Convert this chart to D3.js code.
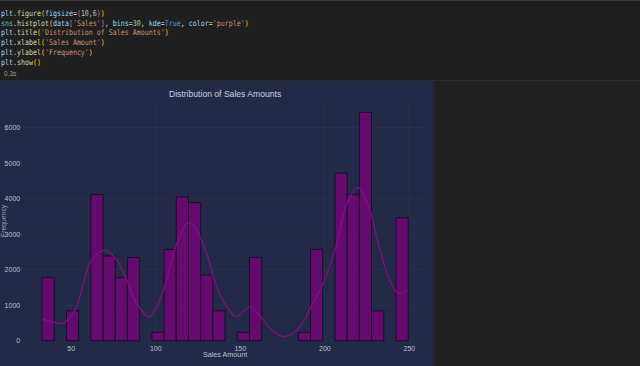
<!DOCTYPE html>
<html>
<head>
<meta charset="utf-8">
<script src="https://cdn.jsdelivr.net/npm/d3@7"></script>
<style>
  html, body { margin: 0; padding: 0; background: #202020; }
  svg { display: block; }
</style>
</head>
<body>
<svg id="page" width="640" height="366"></svg>
<script>
// histogram: 30 bins starting at binMin, each binWidth wide
const binMin = 33.0;
const binWidth = 7.22;
const counts = [1775, 0, 840, 0, 4110, 2385, 1775, 2340, 0, 236,
                2570, 4045, 3885, 1850, 840, 0, 236, 2340, 0, 0,
                0, 236, 2570, 0, 4715, 4120, 6425, 840, 0, 3458];

// kde curve
const kdeX = [33.0, 38.5, 45.6, 52.5, 62.4, 70.3, 77.2, 83.1, 89.0, 96.4,
              104.7, 110.7, 118.6, 122.5, 130.4, 136.3, 142.2, 148.1, 156.0, 161.9,
              169.8, 176.7, 185.6, 192.5, 198.4, 206.3, 214.1, 220.0, 226.9, 232.9,
              238.8, 243.7, 249.6];
const kdeY = [600, 540, 490, 860, 2270, 2550, 2270, 1700, 1050, 675,
              1400, 2450, 3300, 3250, 2450, 1520, 960, 680, 950, 700,
              260, 115, 394, 1004, 1518, 2550, 3956, 4313, 3670, 2550,
              1706, 1333, 1425];

const xTicks = [50, 100, 150, 200, 250];
const yTicks = [0, 1000, 2000, 3000, 4000, 5000, 6000];

// code cell text, token by token
const codeLines = [
  [["plt", "#9cdcfe"], [".", "#d4d4d4"], ["figure", "#dcdcaa"], ["(", "#ffd700"], ["figsize", "#9cdcfe"], ["=", "#d4d4d4"], ["(", "#da70d6"], ["10", "#b5cea8"], [",", "#d4d4d4"], ["6", "#b5cea8"], [")", "#da70d6"], [")", "#ffd700"]],
  [["sns", "#4ec9b0"], [".", "#d4d4d4"], ["histplot", "#dcdcaa"], ["(", "#ffd700"], ["data", "#9cdcfe"], ["[", "#da70d6"], ["'Sales'", "#ce9178"], ["]", "#da70d6"], [", ", "#d4d4d4"], ["bins", "#9cdcfe"], ["=", "#d4d4d4"], ["30", "#b5cea8"], [", ", "#d4d4d4"], ["kde", "#9cdcfe"], ["=", "#d4d4d4"], ["True", "#569cd6"], [", ", "#d4d4d4"], ["color", "#9cdcfe"], ["=", "#d4d4d4"], ["'purple'", "#ce9178"], [")", "#ffd700"]],
  [["plt", "#9cdcfe"], [".", "#d4d4d4"], ["title", "#dcdcaa"], ["(", "#ffd700"], ["'Distribution of Sales Amounts'", "#ce9178"], [")", "#ffd700"]],
  [["plt", "#9cdcfe"], [".", "#d4d4d4"], ["xlabel", "#dcdcaa"], ["(", "#ffd700"], ["'Sales Amount'", "#ce9178"], [")", "#ffd700"]],
  [["plt", "#9cdcfe"], [".", "#d4d4d4"], ["ylabel", "#dcdcaa"], ["(", "#ffd700"], ["'Frequency'", "#ce9178"], [")", "#ffd700"]],
  [["plt", "#9cdcfe"], [".", "#d4d4d4"], ["show", "#dcdcaa"], ["(", "#ffd700"], [")", "#ffd700"]]
];

const svg = d3.select("#page");

// notebook chrome
svg.append("rect").attr("width", 640).attr("height", 81).attr("fill", "#1f1f1f");
svg.append("rect").attr("width", 640).attr("height", 1).attr("fill", "#383838");
svg.append("rect").attr("y", 80).attr("width", 640).attr("height", 1).attr("fill", "#2c2c2c");

const code = svg.append("g")
  .attr("font-family", "DejaVu Sans Mono, monospace")
  .attr("font-size", 8);

codeLines.forEach((tokens, i) => {
  const t = code.append("text")
    .attr("transform", `translate(1,${15.8 + i * 9.75}) scale(0.83,1)`);
  t.selectAll("tspan")
    .data(tokens)
    .join("tspan")
    .attr("fill", d => d[1])
    .attr("xml:space", "preserve")
    .style("white-space", "pre")
    .text(d => d[0]);
});

svg.append("text")
  .attr("x", 4).attr("y", 76)
  .attr("font-family", "Liberation Sans, Arial, sans-serif")
  .attr("font-size", 6.5)
  .attr("fill", "#9a9a9a")
  .text("0.3s");

// figure
const figW = 432, figTop = 81;
const fig = svg.append("g");
fig.append("rect")
  .attr("x", 0).attr("y", figTop)
  .attr("width", figW).attr("height", 366 - figTop)
  .attr("fill", "#232a47");
fig.append("rect")
  .attr("x", figW).attr("y", figTop)
  .attr("width", 2).attr("height", 366 - figTop)
  .attr("fill", "#22263a");

const margin = { left: 23.7, right: figW - 426.5, top: 101, bottom: 366 - 340.7 };
const plotL = margin.left, plotR = figW - margin.right;
const plotT = margin.top, plotB = 366 - margin.bottom;

const binEdge = i => binMin + i * binWidth;
const xPad = (binEdge(30) - binMin) * 0.05;
const yMax = d3.max(counts) * 1.05;

const x = d3.scaleLinear()
  .domain([binMin - xPad, binEdge(30) + xPad])
  .range([plotL, plotR]);
const y = d3.scaleLinear()
  .domain([0, yMax])
  .range([plotB, plotT]);

// faint grid
const grid = fig.append("g").attr("stroke", "#ffffff").attr("stroke-opacity", 0.035).attr("stroke-width", 0.8);
grid.selectAll("line.gx").data(xTicks).join("line")
  .attr("class", "gx")
  .attr("x1", d => x(d)).attr("x2", d => x(d))
  .attr("y1", plotT).attr("y2", plotB);
grid.selectAll("line.gy").data(yTicks).join("line")
  .attr("class", "gy")
  .attr("x1", plotL).attr("x2", plotR)
  .attr("y1", d => y(d)).attr("y2", d => y(d));

// bars
fig.append("g")
  .selectAll("rect")
  .data(counts.map((c, i) => ({ c, i })).filter(d => d.c > 0))
  .join("rect")
  .attr("x", d => x(binEdge(d.i)))
  .attr("width", d => x(binEdge(d.i + 1)) - x(binEdge(d.i)))
  .attr("y", d => y(d.c))
  .attr("height", d => y(0) - y(d.c))
  .attr("fill", "#800080")
  .attr("fill-opacity", 0.72)
  .attr("stroke", "#1a0d2a")
  .attr("stroke-width", 1);

// kde line
const line = d3.line()
  .x((d, i) => x(kdeX[i]))
  .y(d => y(d))
  .curve(d3.curveCatmullRom.alpha(0.5));
fig.append("path")
  .datum(kdeY)
  .attr("d", line)
  .attr("fill", "none")
  .attr("stroke", "#7e1283")
  .attr("stroke-opacity", 0.85)
  .attr("stroke-width", 1.6);

// axes (no ticks, no spines)
const tickColor = "#bcc1d3";
const xAxis = fig.append("g")
  .attr("transform", `translate(0,${plotB})`)
  .call(d3.axisBottom(x).tickValues(xTicks).tickSize(0).tickPadding(5).tickFormat(d3.format("d")));
const yAxis = fig.append("g")
  .attr("transform", `translate(${plotL},0)`)
  .call(d3.axisLeft(y).tickValues(yTicks).tickSize(0).tickPadding(3.5).tickFormat(d3.format("d")));
[xAxis, yAxis].forEach(a => {
  a.select(".domain").remove();
  a.selectAll("text")
    .attr("fill", tickColor)
    .attr("font-family", "Liberation Sans, Arial, sans-serif")
    .attr("font-size", 7);
});

fig.append("text")
  .attr("x", (plotL + plotR) / 2).attr("y", 96.5)
  .attr("text-anchor", "middle")
  .attr("font-family", "Liberation Sans, Arial, sans-serif")
  .attr("font-size", 8.6)
  .attr("fill", "#cdd1e2")
  .text("Distribution of Sales Amounts");

fig.append("text")
  .attr("x", (plotL + plotR) / 2).attr("y", 357.3)
  .attr("text-anchor", "middle")
  .attr("font-family", "Liberation Sans, Arial, sans-serif")
  .attr("font-size", 7.2)
  .attr("fill", tickColor)
  .text("Sales Amount");

fig.append("text")
  .attr("transform", `translate(6,${(plotT + plotB) / 2}) rotate(-90)`)
  .attr("text-anchor", "middle")
  .attr("font-family", "Liberation Sans, Arial, sans-serif")
  .attr("font-size", 6.8)
  .attr("fill", tickColor)
  .attr("fill-opacity", 0.8)
  .text("Frequency");
</script>
</body>
</html>
